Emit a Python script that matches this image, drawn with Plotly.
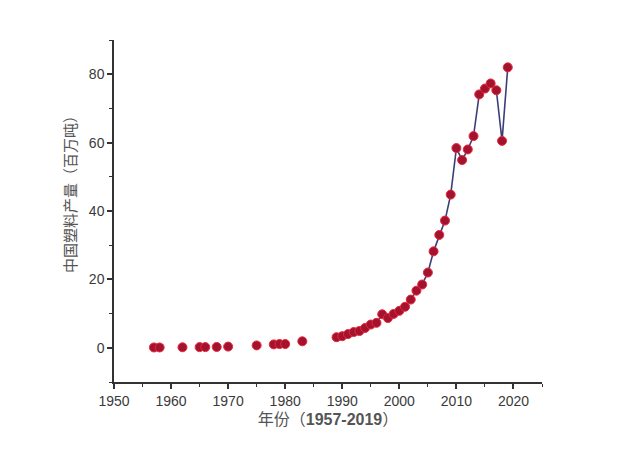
import plotly.graph_objects as go

years = [1957, 1958, 1962, 1965, 1966, 1968, 1970, 1975, 1978, 1979, 1980, 1983,
         1989, 1990, 1991, 1992, 1993, 1994, 1995, 1996, 1997, 1998, 1999, 2000,
         2001, 2002, 2003, 2004, 2005, 2006, 2007, 2008, 2009, 2010, 2011, 2012,
         2013, 2014, 2015, 2016, 2017, 2018, 2019]
output = [0.1, 0.1, 0.15, 0.2, 0.2, 0.25, 0.35, 0.7, 1.0, 1.1, 1.1, 1.9,
          3.1, 3.4, 4.0, 4.6, 4.9, 5.8, 6.8, 7.3, 9.8, 8.7, 9.9, 10.8,
          12.0, 14.1, 16.7, 18.5, 22.0, 28.2, 33.0, 37.2, 44.8, 58.4, 54.9, 58.0,
          61.9, 74.1, 75.8, 77.3, 75.3, 60.5, 82.0]
line_start = 1989

x_title = "年份（<b>1957-2019</b>）"
y_title = "中国塑料产量（百万吨）"

lx = [x for x in years if x >= line_start]
ly = [y for x, y in zip(years, output) if x >= line_start]

fig = go.Figure()
fig.add_trace(go.Scatter(x=lx, y=ly, mode="lines",
                         line=dict(color="#3b3f78", width=1.6),
                         hoverinfo="skip", showlegend=False))
fig.add_trace(go.Scatter(x=years, y=output, mode="markers",
                         marker=dict(size=9, color="#a3122e",
                                     line=dict(color="#e8283a", width=1)),
                         showlegend=False))

font_fam = "Liberation Sans, Arial, Noto Sans CJK SC"
tick_col = "#3a3a3a"
fig.update_layout(
    width=605, height=435,
    margin=dict(l=106, r=71, t=32, b=61),
    plot_bgcolor="white", paper_bgcolor="white",
    font=dict(family=font_fam, color=tick_col, size=14),
    xaxis=dict(range=[1950, 2025], tickvals=list(range(1950, 2021, 10)),
               automargin=False,
               showgrid=False, zeroline=False, showline=True,
               linecolor="#333333", linewidth=1.5,
               ticks="outside", ticklen=5, tickwidth=1.5, tickcolor="#333333",
               minor=dict(dtick=5, ticks="outside", ticklen=3, tickwidth=1.2, tickcolor="#333333"),
               tickfont=dict(size=14, color=tick_col),
               title=dict(text=x_title, font=dict(size=16, color="#555555"), standoff=6)),
    yaxis=dict(range=[-10, 90], tickvals=[0, 20, 40, 60, 80],
               automargin=False,
               showgrid=False, zeroline=False, showline=True,
               linecolor="#333333", linewidth=1.5,
               ticks="outside", ticklen=5, tickwidth=1.5, tickcolor="#333333",
               minor=dict(dtick=10, ticks="outside", ticklen=3, tickwidth=1.2, tickcolor="#333333"),
               tickfont=dict(size=14, color=tick_col)),
    annotations=[dict(text=y_title, textangle=-90, xref="paper", yref="paper",
                      x=-0.103, y=0.561, xanchor="center", yanchor="middle",
                      showarrow=False, font=dict(size=15, color="#555555"))],
)
fig.write_html("out.html")
